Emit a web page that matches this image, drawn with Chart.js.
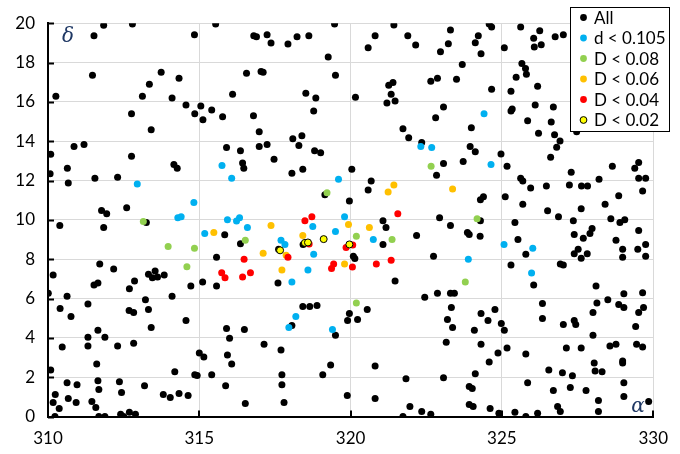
<!DOCTYPE html>
<html>
<head>
<meta charset="utf-8">
<script src="https://cdn.jsdelivr.net/npm/chart.js@4.4.0/dist/chart.umd.min.js"></script>
<style>
  html, body { margin: 0; padding: 0; background: #fff; }
  #wrap { width: 680px; height: 454px; }
</style>
</head>
<body>
<div id="wrap"><canvas id="chart" width="680" height="454"></canvas></div>
<script>
// series: [alpha, delta] pairs
const allPoints = [
  [311.84,19.89],[312.79,19.96],[311.52,19.36],[314.84,19.41],[311.47,17.35],[310.26,16.29],[313.74,17.5],[314.33,17.2],
  [313.35,16.9],[313.12,16.29],[314.1,16.19],[314.56,15.84],[314.85,15.39],[312.76,15.39],[313.41,14.58],[310.86,13.73],
  [311.19,13.83],
  [315.54,19.96],[316.8,19.36],[316.89,19.31],[317.24,19.41],[317.37,18.99],[317.93,18.94],[318.23,19.31],[318.62,19.36],
  [319.47,19.96],[319.26,18.28],[316.56,17.45],[317.04,17.55],[317.11,17.5],[319.5,17.35],[316.1,16.39],[318.52,16.44],
  [318.85,16.19],[320.16,16.24],[315.05,15.79],[315.12,15.09],[315.41,15.59],[315.77,15.24],[316.79,15.29],[318.78,15.54],
  [316.98,14.48],[318.09,14.13],[318.39,14.28],[318.29,13.78],[315.9,13.68],[316.36,13.51],[316.98,13.73],[317.24,13.83],
  [318.81,13.51],[319.01,13.41],
  [321.43,19.91],[320.81,19.36],[320.58,18.75],[321.89,19.36],[322.15,18.89],[323.3,19.66],[323.23,18.95],[322.97,18.55],
  [324.22,19.36],[324.12,19.0],[324.31,18.45],[324.58,19.96],[324.66,19.81],[325.08,18.75],[325.62,19.81],[323.69,17.9],
  [321.26,16.84],[321.4,16.99],[321.34,16.39],[321.2,15.94],[321.47,16.04],[322.65,17.05],[322.87,17.2],[323.5,17.15],
  [324.66,16.64],[325.3,16.54],[325.47,17.25],[325.66,17.95],[325.78,17.7],[323.07,15.74],[322.81,15.19],[321.73,14.63],
  [321.92,14.18],[322.35,13.93],[323.99,14.68],[323.95,13.73],[324.12,13.46],[324.97,13.35],[325.34,15.64],[325.3,15.54],
  [326.25,19.61],[326.05,19.24],[326.3,18.9],[326.07,18.79],[326.76,19.31],[327.03,19.41],[325.81,17.41],[326.18,16.79],
  [326.1,15.84],[326.7,15.74],[325.85,15.04],[326.63,14.98],[326.21,14.4],[326.74,14.33],[326.92,14.01],[326.81,13.69],
  [327.47,14.48],
  [310.09,13.34],[310.07,12.34],[310.64,12.62],[310.67,11.87],[312.76,13.23],[311.55,12.12],[312.3,12.17],[314.16,12.82],
  [314.27,12.62],[311.77,10.48],[311.94,10.31],[312.6,10.61],[313.25,9.86],[310.39,9.71],[311.84,9.61],[311.71,7.75],
  [310.17,7.2],[312.17,7.5],[313.32,7.24],[313.54,7.4],[313.45,7.05],[313.62,7.1],[313.84,7.2],[311.52,6.69],
  [311.65,6.79],[312.86,6.89],[312.69,6.49],[314.72,6.64],[310.01,6.27],[310.63,6.12],[314.1,6.12],
  [316.43,12.89],[316.47,12.62],[317.47,13.08],[318.06,12.37],[318.42,12.57],[320.04,12.57],[319.15,11.28],[319.96,10.96],
  [315.84,9.24],[316.36,8.79],[318.43,8.75],[317.62,8.5],[320.09,8.15],[320.14,8.03],[315.57,8.1],[315.11,6.84],
  [315.57,6.64],[317.6,6.79],
  [323.07,12.87],[322.84,12.27],[323.72,12.97],[325.17,12.72],[320.68,11.97],[320.58,11.52],[324.39,11.17],[324.29,11.02],
  [325.11,11.17],[325.62,12.12],[325.69,11.97],[325.69,10.79],[321.07,9.96],[321.17,9.61],[321.07,8.75],[322.18,9.2],
  [322.94,10.11],[323.3,9.71],[324.29,9.96],[323.86,9.36],[323.92,9.26],[324.28,9.16],[325.43,9.86],[325.53,9.0],
  [322.74,8.15],[325.3,7.7],[321.47,6.89],[322.45,6.07],[322.87,6.27],[323.3,6.27],[323.43,6.27],
  [326.61,13.18],[327.29,12.42],[328.65,12.72],[329.52,12.92],[329.39,12.62],[329.52,12.12],[329.75,12.12],[328.21,12.07],
  [325.95,11.62],[326.47,11.72],[327.23,11.77],[327.63,11.72],[327.83,11.72],[329.65,11.47],[328.86,11.22],[326.51,10.46],
  [326.87,10.16],[327.62,10.56],[327.36,9.96],[328.41,10.79],[328.6,10.06],[328.9,9.86],[329.06,10.01],[327.39,9.26],
  [327.98,9.56],[327.91,9.31],[327.69,9.06],[328.77,8.96],[329.52,9.46],[325.79,8.25],[327.52,8.5],[327.39,8.28],
  [327.62,8.05],[327.82,8.28],[328.99,8.5],[328.99,8.1],[329.49,8.5],[329.75,8.75],[329.75,8.15],[326.93,7.75],
  [327.03,7.7],[326.05,6.69],[328.11,6.64],[329.03,6.24],[329.65,6.29],[328.5,5.94],[328.14,5.77],[328.86,5.69],
  [329.03,5.54],[329.68,5.54],[329.52,5.29],
  [310.4,5.49],[310.76,5.09],[311.32,5.72],[311.32,4.03],[311.32,3.58],[311.65,4.38],[311.88,4.03],[310.47,3.53],
  [312.68,5.39],[312.83,5.29],[313.22,5.94],[313.32,5.44],[313.41,4.53],[314.56,4.88],[312.3,3.58],[312.83,3.73],
  [315.0,3.23],[310.09,2.37],[311.61,2.67],[314.19,2.27],[314.85,2.12],[314.93,2.08],[311.65,1.82],[311.68,1.37],
  [310.63,1.72],[310.96,1.62],[312.36,1.77],[312.43,1.22],[313.19,1.57],[310.24,1.12],[310.17,0.71],[310.37,0.41],
  [310.67,0.91],[310.93,0.71],[311.45,0.76],[311.58,0.46],[310.23,0],[311.68,0],[311.88,0],[312.4,0.11],
  [312.5,0],[312.69,0.21],[312.89,0.11],[313.81,1.12],[314.04,0.96],[314.33,1.17],[314.63,1.07],
  [318.42,5.59],[318.65,5.59],[318.89,5.64],[318.06,4.63],[319.96,5.24],[319.9,4.88],[320.23,4.93],[319.5,4.13],
  [315.9,4.48],[316.49,4.43],[316.0,3.98],[317.14,3.68],[317.7,3.38],[315.15,3.03],[315.93,3.13],[316.07,2.67],
  [315.41,2.12],[315.87,1.57],[317.73,2.12],[317.73,1.62],[319.08,2.12],[319.34,2.62],[319.89,1.07],[316.52,0.66],
  [317.8,0.71],
  [320.55,5.44],[323.33,5.54],[323.2,4.93],[323.37,4.53],[323.16,3.78],[324.31,5.24],[324.77,5.44],[324.54,4.88],
  [324.98,4.73],[325.08,4.38],[324.09,4.38],[324.31,3.68],[325.17,3.48],[324.87,3.23],[324.58,2.77],[324.12,2.17],
  [320.81,2.57],[321.83,1.92],[323.07,1.97],[323.92,1.52],[324.02,1.42],[320.81,0.91],[321.96,0.51],[322.35,0.26],
  [322.65,0.11],[321.73,0],[323.92,0.61],[324.05,0.51],[324.61,0.41],[324.9,0.16],[325.43,0.21],
  [326.34,5.74],[326.34,4.98],[328.01,5.29],[327.03,4.68],[327.39,4.88],[327.44,4.68],[328.01,4.13],[329.42,4.58],
  [325.79,3.18],[327.13,3.48],[327.62,3.48],[328.57,3.58],[328.77,3.68],[329.45,3.68],[329.65,3.53],[326.55,2.37],
  [327.0,2.22],[327.33,2.07],[328.05,2.72],[328.08,2.32],[328.31,2.27],[328.99,2.82],[328.99,2.72],[325.85,1.72],
  [326.7,1.32],[327.26,1.47],[327.78,1.32],[329.03,1.72],[329.03,1.02],[328.19,0.81],[328.19,0.26],[326.84,0.51],
  [326.93,0.26],[326.18,0.16],[325.79,0],[329.85,0.76]
];

const d105Points = [
  [324.41,15.39],[322.32,13.73],[322.68,13.68],[312.95,11.82],[314.82,10.88],[314.29,10.11],[314.4,10.16],[315.75,12.77],
  [316.07,12.12],[319.6,12.07],[315.93,10.01],[316.23,9.94],[316.33,10.11],[316.59,9.61],[315.18,9.31],[318.75,9.66],
  [317.7,8.96],[317.83,8.75],[319.5,9.41],[319.8,10.16],[318.78,8.25],[318.59,7.45],[318.06,6.84],[324.64,12.82],
  [320.75,9.0],[325.07,8.75],[323.89,8.0],[326.02,8.55],[325.98,7.3],[318.19,5.09],[317.96,4.53],[319.4,4.43]
];

const d08Points = [
  [313.15,9.91],[313.97,8.65],[314.84,8.55],[314.59,7.61],[316.52,8.96],[319.22,11.38],[320.19,9.16],[322.66,12.72],
  [321.37,9.0],[324.18,10.06],[323.79,6.84],[320.19,5.77]
];

const d06Points = [
  [315.48,9.36],[317.37,9.71],[318.42,9.21],[317.87,8.2],[317.11,8.3],[317.73,7.45],[319.93,9.76],[319.8,7.75],
  [321.43,11.77],[321.24,11.42],[323.37,11.57],[320.62,9.61]
];

const d04Points = [
  [318.49,9.96],[318.72,10.16],[317.93,8.1],[318.63,8.77],[319.85,8.6],[320.07,8.72],[316.48,8.0],[319.44,7.75],
  [319.37,7.53],[320.06,7.6],[315.74,7.31],[315.85,7.05],[316.43,7.1],[316.69,7.31],[321.56,10.31],[320.85,7.75],
  [321.34,7.95]
];

const d02Points = [
  [317.67,8.45],[318.49,8.83],[318.59,8.85],[319.11,9.02],[319.96,8.75]
];

const seriesLabels = ['All', 'd < 0.105', 'D < 0.08', 'D < 0.06', 'D < 0.04', 'D < 0.02'];
const seriesColors = ['#000000', '#00B0F0', '#92D050', '#FFC000', '#FF0000', '#FFFF00'];
const xTicks = [310, 315, 320, 325, 330];
const yTicks = [0, 2, 4, 6, 8, 10, 12, 14, 16, 18, 20];

const toXY = arr => arr.map(p => ({ x: p[0], y: p[1] }));
const seriesData = [allPoints, d105Points, d08Points, d06Points, d04Points, d02Points];

const datasets = seriesData.map((pts, i) => ({
  label: seriesLabels[i],
  data: toXY(pts),
  backgroundColor: seriesColors[i],
  borderColor: i === 5 ? '#000000' : seriesColors[i],
  borderWidth: i === 5 ? 1 : 0,
  pointRadius: 3.5,
  pointHoverRadius: 3.5,
  order: seriesData.length - i
}));

const FONT = 'Lato';

// inside tick marks, axis symbols and the boxed legend
const extras = {
  id: 'extras',
  afterDraw(chart) {
    const ctx = chart.ctx;
    const xs = chart.scales.x, ys = chart.scales.y;
    const area = chart.chartArea;
    ctx.save();
    ctx.strokeStyle = '#000';
    ctx.lineWidth = 2;
    ctx.beginPath();
    yTicks.forEach(v => {
      const y = Math.round(ys.getPixelForValue(v)) + 0.5;
      ctx.moveTo(area.left, y);
      ctx.lineTo(area.left + 6, y);
    });
    xTicks.forEach(v => {
      const x = Math.round(xs.getPixelForValue(v));
      ctx.moveTo(x, area.bottom);
      ctx.lineTo(x, area.bottom - 6);
    });
    ctx.stroke();

    ctx.fillStyle = '#1F3864';
    ctx.font = 'italic 20px "DejaVu Serif"';
    ctx.textBaseline = 'alphabetic';
    ctx.textAlign = 'left';
    ctx.fillText('δ', area.left + 14, area.top + 19);
    ctx.fillText('α', area.right - 22, area.bottom - 5);

    // legend box
    const lx = 570.5, ly = 7.5, lw = 99, lh = 124;
    ctx.fillStyle = '#fff';
    ctx.fillRect(lx, ly, lw, lh);
    ctx.lineWidth = 1;
    ctx.strokeStyle = '#000';
    ctx.strokeRect(lx, ly, lw, lh);
    ctx.font = '17px ' + FONT;
    ctx.textBaseline = 'middle';
    seriesLabels.forEach((lab, i) => {
      const y = 17.5 + i * 20.5;
      ctx.beginPath();
      ctx.arc(583.5, y, 3.4, 0, Math.PI * 2);
      ctx.fillStyle = seriesColors[i];
      ctx.fill();
      if (i === 5) { ctx.strokeStyle = '#000'; ctx.lineWidth = 1; ctx.stroke(); }
      ctx.fillStyle = '#000';
      ctx.fillText(lab, 594, y + 1);
    });
    ctx.restore();
  }
};

new Chart(document.getElementById('chart'), {
  type: 'scatter',
  data: { datasets },
  options: {
    responsive: false,
    animation: false,
    devicePixelRatio: 1,
    layout: { padding: { top: 18, right: 22, left: 0, bottom: 0 } },
    plugins: {
      legend: { display: false },
      tooltip: { enabled: false }
    },
    scales: {
      x: {
        type: 'linear',
        min: 310,
        max: 330,
        afterBuildTicks: s => { s.ticks = xTicks.map(v => ({ value: v })); },
        afterFit: s => { s.height = 37.5; },
        grid: { color: '#D9D9D9', lineWidth: 1, drawTicks: false },
        border: { color: '#000', width: 2 },
        ticks: { padding: 12, color: '#000', font: { family: FONT, size: 17 }, maxRotation: 0 }
      },
      y: {
        type: 'linear',
        min: 0,
        max: 20,
        afterBuildTicks: s => { s.ticks = yTicks.map(v => ({ value: v })); },
        afterFit: s => { s.width = 48; },
        grid: { color: '#D9D9D9', lineWidth: 1, drawTicks: false },
        border: { color: '#000', width: 2 },
        ticks: { padding: 13, color: '#000', font: { family: FONT, size: 17 } }
      }
    }
  },
  plugins: [extras]
});
</script>
</body>
</html>
